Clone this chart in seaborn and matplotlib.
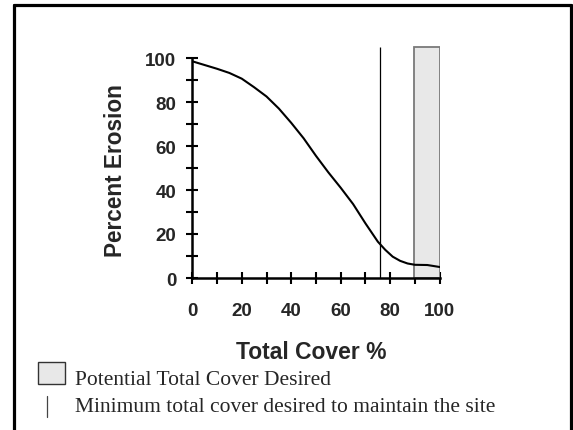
import matplotlib
matplotlib.use("Agg")
import matplotlib.pyplot as plt
from matplotlib.patches import Rectangle
from matplotlib.lines import Line2D
from matplotlib.ticker import MultipleLocator
import seaborn as sns

# ---- data ----
total_cover = [0, 5, 10, 15, 20, 25, 30, 35, 40, 45, 50, 55, 60, 65, 70, 75, 78, 81, 84, 87, 90, 95, 100]
percent_erosion = [98.5, 96.8, 95.1, 93.2, 90.6, 86.7, 82.5, 77.0, 70.5, 63.5, 55.5, 48.0, 41.0,
                   33.6, 24.8, 16.5, 12.8, 9.7, 7.8, 6.6, 6.0, 5.9, 5.0]
desired_cover_range = [89.5, 100]
desired_cover_top = 105
minimum_cover = 76
x_ticks = [0, 20, 40, 60, 80, 100]
y_ticks = [0, 20, 40, 60, 80, 100]
legend_labels = ["Potential Total Cover Desired",
                 "Minimum total cover desired to maintain the site"]

sns.set_style("white")
plt.rcParams["font.family"] = ["Liberation Sans", "DejaVu Sans"]

W, H = 573, 431
fig = plt.figure(figsize=(W / 100, H / 100), dpi=100)

def fx(px):
    return px / W

def fy(py):
    return 1 - py / H

x0, x1 = 192.3, 439.7
y0 = 279.0
ppu_y = 2.2
ymax = 106
ax = fig.add_axes([fx(x0), fy(y0), (x1 - x0) / W, ppu_y * ymax / H])
ax.set_xlim(0, 100)
ax.set_ylim(0, ymax)

# desired cover bar
ax.bar(desired_cover_range[0], desired_cover_top,
       width=desired_cover_range[1] - desired_cover_range[0], align="edge",
       color="#e8e8e8", edgecolor="#7a7a7a", linewidth=1.3, zorder=1)
# minimum cover line
ax.vlines(minimum_cover, 0, desired_cover_top, color="black", linewidth=0.9, zorder=2)

sns.lineplot(x=total_cover, y=percent_erosion, ax=ax, color="black",
             linewidth=1.5, zorder=3)

for s in ["top", "right"]:
    ax.spines[s].set_visible(False)
for s in ["left", "bottom"]:
    ax.spines[s].set_linewidth(1.8)
    ax.spines[s].set_color("black")
    ax.spines[s].set_zorder(4)
ax.spines["left"].set_bounds(0, 100)
ax.spines["bottom"].set_bounds(0, 100)

ax.set_xticks(x_ticks)
ax.set_yticks(y_ticks)
ax.set_xticklabels([str(t) for t in x_ticks])
ax.set_yticklabels([str(t) for t in y_ticks])
ax.xaxis.set_minor_locator(MultipleLocator(10))
ax.yaxis.set_minor_locator(MultipleLocator(10))
ax.tick_params(axis="x", which="both", direction="inout", length=8, width=1.5,
               color="black", pad=13.5, labelsize=13.5, bottom=True, top=False)
ax.tick_params(axis="y", which="both", direction="inout", length=9, width=1.5,
               color="black", pad=7, labelsize=13.5, left=True, right=False)
for lab in ax.get_xticklabels() + ax.get_yticklabels():
    lab.set_fontweight("bold")

ax.set_xlabel("Total Cover %", fontsize=16.5, fontweight="bold")
ax.set_ylabel("Percent Erosion", fontsize=16.3, fontweight="bold")
ax.xaxis.set_label_coords((311 - x0) / (x1 - x0), (y0 - 341) / (ppu_y * ymax))
ax.yaxis.set_label_coords((127 - x0) / (x1 - x0), (y0 - 171) / (ppu_y * ymax))
ax.patch.set_alpha(0)

# outer frame (open at bottom)
fl, fr, ft = 13.5, 571, 5.5
fig.add_artist(Line2D([fx(fl), fx(fl)], [fy(ft), -0.02], color="black", lw=2.3, transform=fig.transFigure))
fig.add_artist(Line2D([fx(fl), fx(fr)], [fy(ft), fy(ft)], color="black", lw=2.3, transform=fig.transFigure))
fig.add_artist(Line2D([fx(fr), fx(fr)], [fy(ft), -0.02], color="black", lw=2.3, transform=fig.transFigure))

# legend
fig.add_artist(Rectangle((fx(37.5), fy(385)), (65 - 37.5) / W, (385 - 363) / H,
                         facecolor="#e8e8e8", edgecolor="#333333", lw=1.0,
                         transform=fig.transFigure))
fig.add_artist(Line2D([fx(46.8), fx(46.8)], [fy(397), fy(418)], color="#444444",
                      lw=0.9, transform=fig.transFigure))
fig.text(fx(75), fy(381), legend_labels[0], fontsize=15.5, va="center", ha="left",
         family=["Liberation Serif", "DejaVu Serif"])
fig.text(fx(75), fy(408), legend_labels[1], fontsize=15.5, va="center", ha="left",
         family=["Liberation Serif", "DejaVu Serif"])

fig.savefig("out.png", dpi=100)
